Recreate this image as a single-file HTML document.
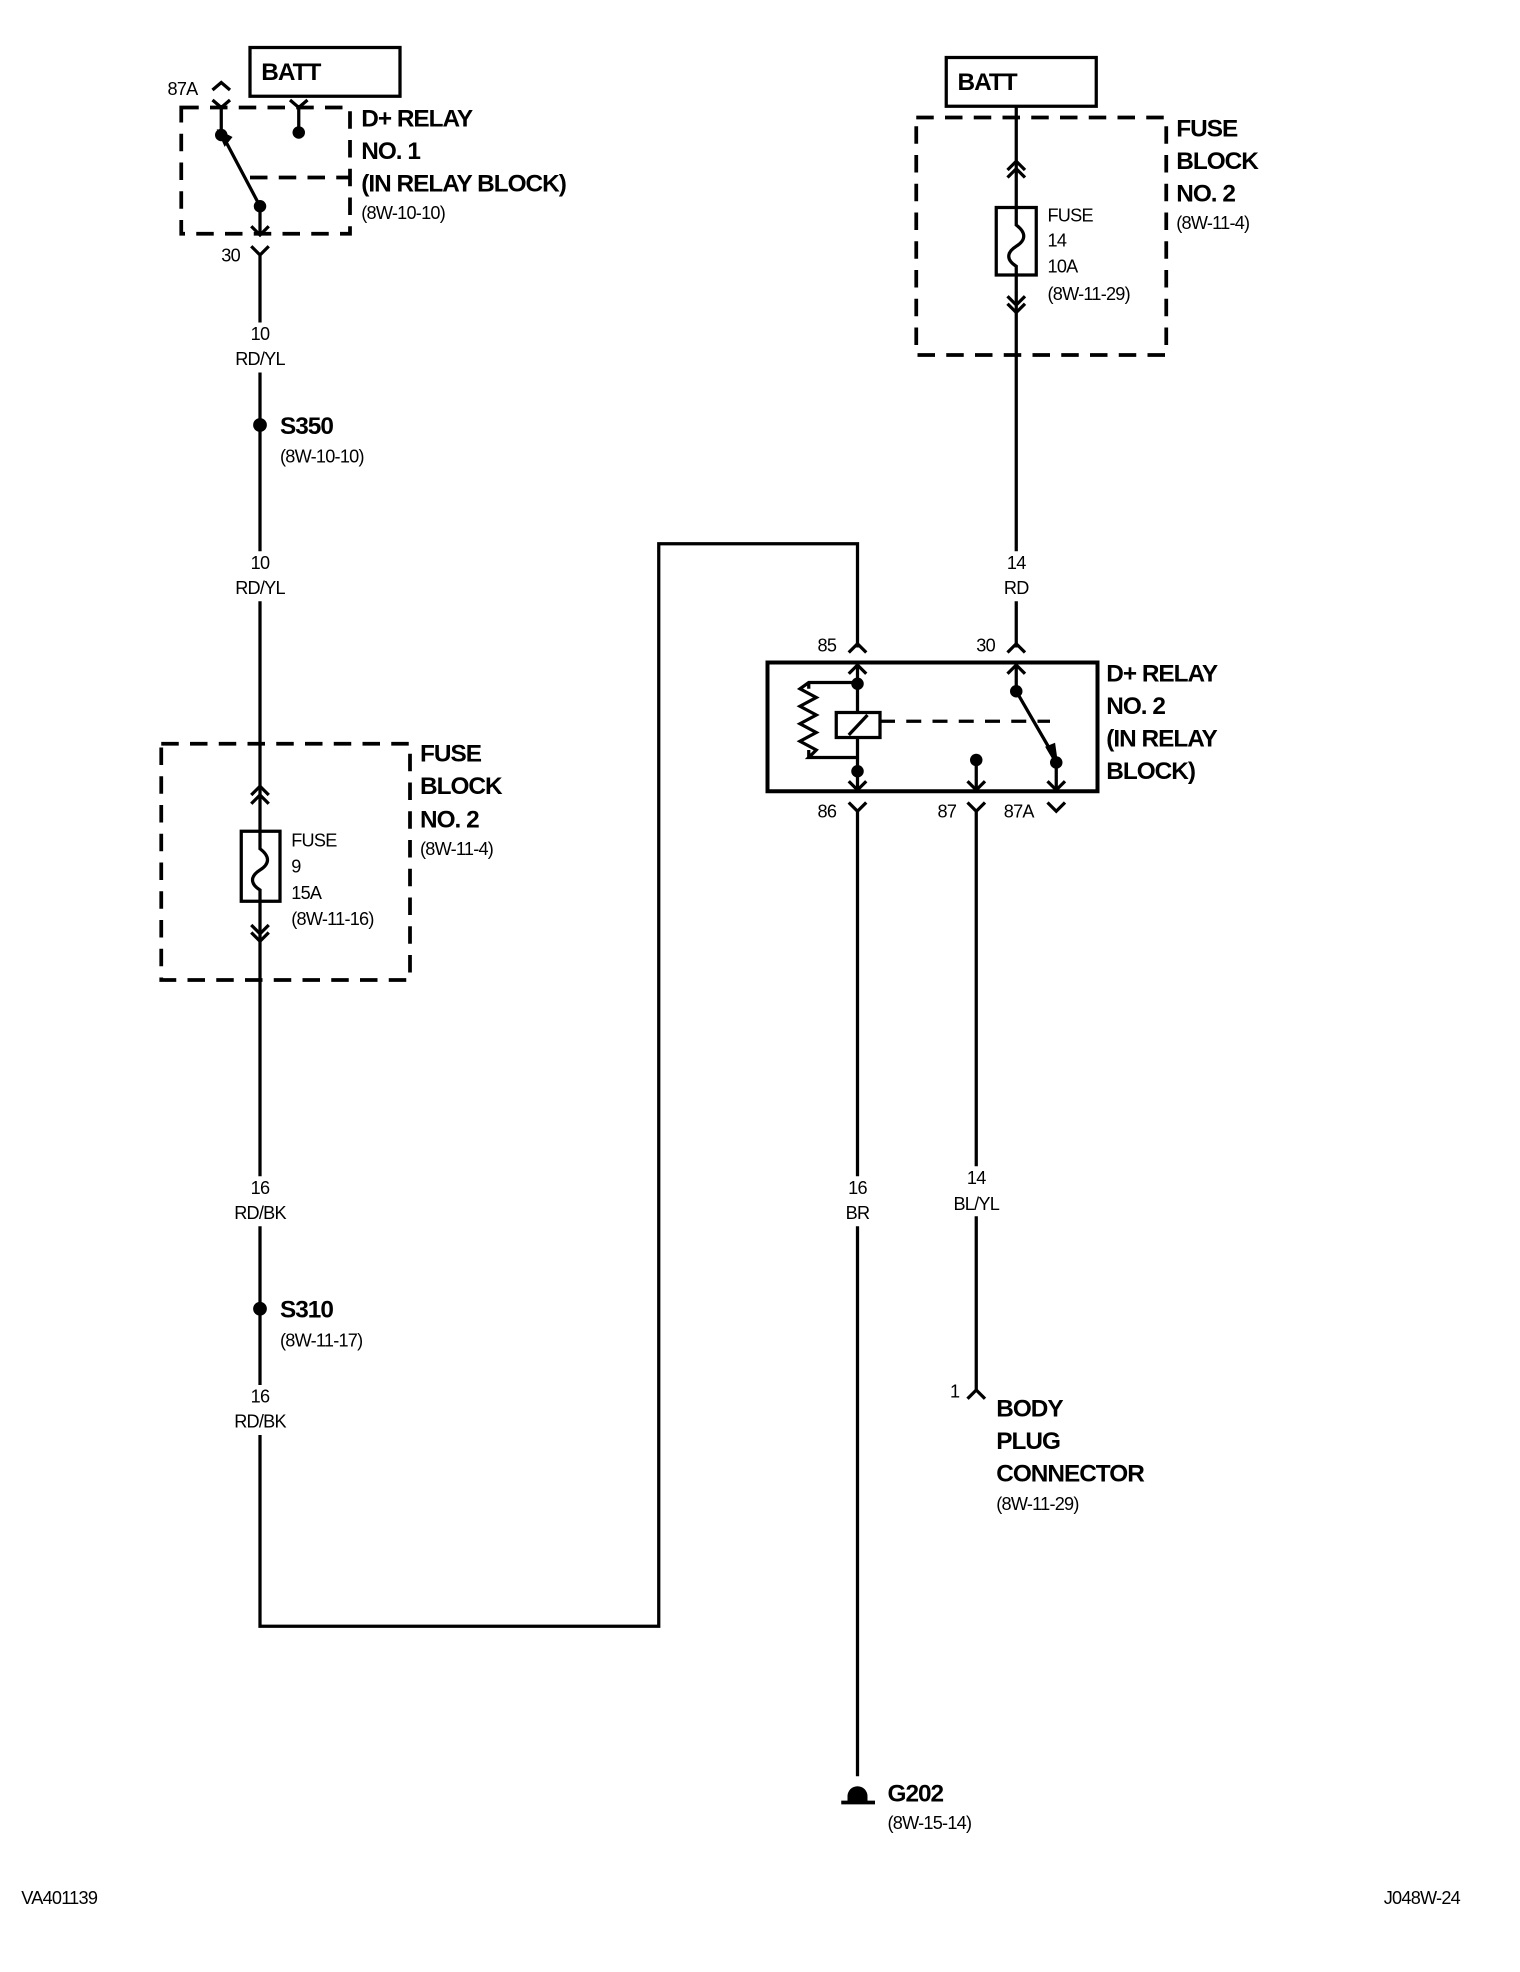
<!DOCTYPE html>
<html><head><meta charset="utf-8"><style>
html,body{margin:0;padding:0;background:#fff;}
svg{display:block;}
text{font-family:"Liberation Sans",Arial,sans-serif;fill:#000;}
.b{font-weight:bold;font-size:19.5px;letter-spacing:-0.8px;}
.s{font-size:14.5px;letter-spacing:-0.6px;}
</style></head><body>
<svg width="1520" height="1972" viewBox="0 0 1216 1577.6" xmlns="http://www.w3.org/2000/svg">
<g stroke="#000" stroke-width="2.6" fill="none">
<rect x="200" y="38" width="120" height="39"/>
<rect x="145" y="86" width="135" height="101" stroke-width="3" stroke-dasharray="14,9"/>
<path d="M200 142 H280" stroke-width="3" stroke-dasharray="14,9"/>
<path d="M177 84 V108 M170 80 L177 86 L184 80 M170 72 L177 66 L184 72"/>
<path d="M239 84 V106 M232 80 L239 86 L246 80"/>
<path d="M208 165 L180 112 M176 106 L180 115 L184 110 Z" fill="#000"/>
<path d="M208 165 V188 M201 181 L208 188 L215 181 M201 197 L208 204 L215 197 M208 204 V1301 H527 V435 H686 V518"/>
<rect x="129" y="595" width="199" height="189" stroke-width="3" stroke-dasharray="14,9"/>
<rect x="193" y="665" width="31" height="56" fill="#fff"/>
<path d="M201 636 L208 629 L215 636 M201 643 L208 636 L215 643 M201 740 L208 747 L215 740 M201 746 L208 753 L215 746"/>
<path d="M208 665 V679 C216 685,216 691,208 696 C200 701,200 707,208 712 V721"/>
<rect x="757" y="46" width="120" height="39"/>
<rect x="733" y="94" width="200" height="190" stroke-width="3" stroke-dasharray="14,9"/>
<path d="M813 85 V518"/>
<rect x="797" y="166" width="32" height="54" fill="#fff"/>
<path d="M813 166 V180 C821 186,821 192,813 197 C805 202,805 208,813 213 V220"/>
<path d="M806 136 L813 129 L820 136 M806 142 L813 135 L820 142 M806 237 L813 244 L820 237 M806 243 L813 250 L820 243"/>
<rect x="614" y="530" width="264" height="103" stroke-width="3.2"/>
<path d="M679 522 L686 515 L693 522 M806 522 L813 515 L820 522 M679 539 L686 532 L693 539 M806 539 L813 532 L820 539"/>
<path d="M686 530 V570 M686 591 V633 M813 530 V553"/>
<rect x="669" y="570" width="35" height="20"/>
<path d="M679 588 L694 572"/>
<path d="M704 577 H840" stroke-dasharray="12,9"/>
<path d="M686 546 H647 L640 551 L653 558 L640 565 L653 572 L640 579 L653 586 L640 593 L653 600 L647 606 H686 M647 546 V551 M647 606 V600" />
<path d="M813 553 L842 603 M838 598 L845 610 L843 596 Z" fill="#000"/>
<path d="M781 608 V633 M845 610 V633"/>
<path d="M679 625 L686 632 L693 625 M774 625 L781 632 L788 625 M838 625 L845 632 L852 625"/>
<path d="M679 642 L686 649 L693 642 M774 642 L781 649 L788 642 M838 642 L845 649 L852 642"/>
<path d="M686 649 V1421 M781 649 V1112"/>
<path d="M774 1119 L781 1112 L788 1119"/>
<path d="M673 1442 H700" stroke-width="3"/>
</g>
<!-- label gaps -->
<g fill="#fff">
<rect x="185" y="258" width="46" height="40"/>
<rect x="185" y="441" width="46" height="40"/>
<rect x="185" y="941" width="46" height="40"/>
<rect x="185" y="1108" width="46" height="40"/>
<rect x="795" y="441" width="36" height="40"/>
<rect x="668" y="941" width="36" height="40"/>
<rect x="758" y="933" width="46" height="40"/>
</g>
<g fill="#000">
<circle cx="177" cy="108" r="5"/><circle cx="239" cy="106" r="5"/><circle cx="208" cy="165" r="5"/>
<circle cx="208" cy="340" r="5.5"/><circle cx="208" cy="1047" r="5.5"/>
<circle cx="686" cy="547" r="5"/><circle cx="686" cy="617" r="5"/><circle cx="813" cy="553" r="5"/>
<circle cx="781" cy="608" r="5"/><circle cx="845" cy="610" r="5"/>
<path d="M678 1442 V1437 A8 8 0 0 1 694 1437 V1442 Z"/>
</g>
<text class="b" x="209" y="64">BATT</text>
<text class="b" x="766" y="72">BATT</text>
<text class="s" x="134" y="76">87A</text>
<text class="s" x="177" y="209">30</text>
<text class="b" x="289" y="101">D+ RELAY</text>
<text class="b" x="289" y="127">NO. 1</text>
<text class="b" x="289" y="153">(IN RELAY BLOCK)</text>
<text class="s" x="289" y="175">(8W-10-10)</text>
<g class="s" text-anchor="middle">
<text x="208" y="272">10</text><text x="208" y="292">RD/YL</text>
<text x="208" y="455">10</text><text x="208" y="475">RD/YL</text>
<text x="208" y="955">16</text><text x="208" y="975">RD/BK</text>
<text x="208" y="1122">16</text><text x="208" y="1142">RD/BK</text>
<text x="813" y="455">14</text><text x="813" y="475">RD</text>
<text x="686" y="955">16</text><text x="686" y="975">BR</text>
<text x="781" y="947">14</text><text x="781" y="968">BL/YL</text>
</g>
<text class="b" x="224" y="347">S350</text>
<text class="s" x="224" y="370">(8W-10-10)</text>
<text class="b" x="224" y="1054">S310</text>
<text class="s" x="224" y="1077">(8W-11-17)</text>
<text class="b" x="336" y="609">FUSE</text>
<text class="b" x="336" y="635">BLOCK</text>
<text class="b" x="336" y="662">NO. 2</text>
<text class="s" x="336" y="684">(8W-11-4)</text>
<text class="s" x="233" y="677">FUSE</text>
<text class="s" x="233" y="698">9</text>
<text class="s" x="233" y="719">15A</text>
<text class="s" x="233" y="740">(8W-11-16)</text>
<text class="b" x="941" y="109">FUSE</text>
<text class="b" x="941" y="135">BLOCK</text>
<text class="b" x="941" y="161">NO. 2</text>
<text class="s" x="941" y="183">(8W-11-4)</text>
<text class="s" x="838" y="177">FUSE</text>
<text class="s" x="838" y="197">14</text>
<text class="s" x="838" y="218">10A</text>
<text class="s" x="838" y="240">(8W-11-29)</text>
<text class="s" x="654" y="521">85</text>
<text class="s" x="781" y="521">30</text>
<text class="b" x="885" y="545">D+ RELAY</text>
<text class="b" x="885" y="571">NO. 2</text>
<text class="b" x="885" y="597">(IN RELAY</text>
<text class="b" x="885" y="623">BLOCK)</text>
<text class="s" x="654" y="654">86</text>
<text class="s" x="750" y="654">87</text>
<text class="s" x="803" y="654">87A</text>
<text class="s" x="760" y="1118">1</text>
<text class="b" x="797" y="1133">BODY</text>
<text class="b" x="797" y="1159">PLUG</text>
<text class="b" x="797" y="1185">CONNECTOR</text>
<text class="s" x="797" y="1208">(8W-11-29)</text>
<text class="b" x="710" y="1441">G202</text>
<text class="s" x="710" y="1463">(8W-15-14)</text>
<text class="s" x="17" y="1523">VA401139</text>
<text class="s" x="1107" y="1523">J048W-24</text>
</svg>
</body></html>
